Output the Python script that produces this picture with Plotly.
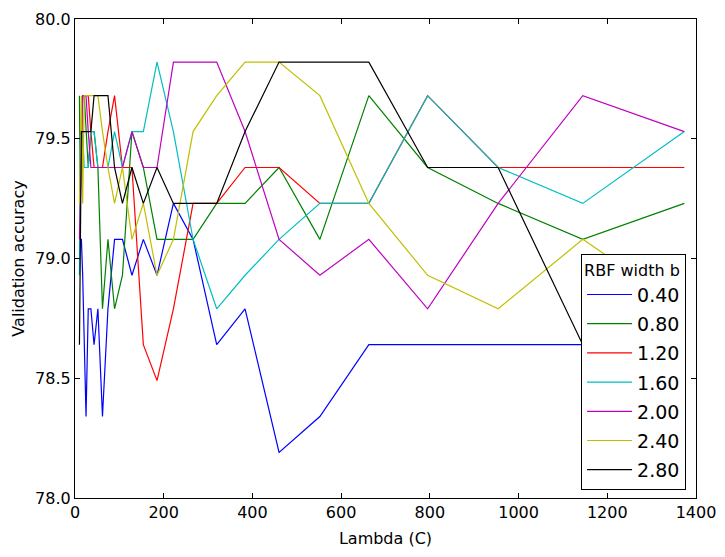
import plotly.graph_objects as go

# Lambda (C) values
lambdas = [10.0, 12.0, 14.4, 17.28, 20.74, 24.88, 29.86, 35.83, 43.0, 51.6, 61.92, 74.3,
           89.16, 106.99, 128.39, 154.07, 184.88, 221.86, 266.23, 319.48, 383.38, 460.05,
           552.06, 662.47, 794.97, 953.96, 1144.75, 1373.7]

width_labels = ["0.40", "0.80", "1.20", "1.60", "2.00", "2.40", "2.80"]

acc_040 = [79.08, 79.08, 79.08, 78.93, 78.64, 78.34, 78.79, 78.79, 78.64, 78.79, 78.34, 78.79,
           79.08, 79.08, 78.93, 79.08, 78.93, 79.23, 79.08, 78.64, 78.79, 78.19, 78.34, 78.64,
           78.64, 78.64, 78.64, 78.64]
acc_080 = [79.68, 79.23, 79.53, 79.68, 79.68, 79.53, 79.38, 79.53, 79.53, 79.38, 78.79, 79.08,
           78.79, 78.93, 79.53, 79.38, 79.08, 79.08, 79.08, 79.23, 79.23, 79.38, 79.08, 79.68,
           79.38, 79.23, 79.08, 79.23]
acc_120 = [79.53, 79.53, 79.38, 79.68, 79.68, 79.68, 79.68, 79.53, 79.38, 79.38, 79.38, 79.53,
           79.68, 79.38, 79.38, 78.64, 78.49, 78.79, 79.23, 79.23, 79.38, 79.38, 79.23, 79.23,
           79.68, 79.38, 79.38, 79.38]
acc_160 = [78.93, 79.53, 79.38, 79.53, 79.38, 79.38, 79.38, 79.53, 79.53, 79.38, 79.38, 79.38,
           79.53, 79.38, 79.53, 79.53, 79.82, 79.53, 79.08, 78.79, 78.93, 79.08, 79.23, 79.23,
           79.68, 79.38, 79.23, 79.53]
acc_200 = [79.08, 79.23, 79.53, 79.68, 79.68, 79.68, 79.53, 79.38, 79.38, 79.38, 79.38, 79.38,
           79.38, 79.38, 79.53, 79.38, 79.38, 79.82, 79.82, 79.82, 79.53, 79.08, 78.93, 79.08,
           78.79, 79.23, 79.68, 79.53]
acc_240 = [79.23, 79.53, 79.68, 79.23, 79.68, 79.68, 79.68, 79.68, 79.68, 79.68, 79.53, 79.38,
           79.23, 79.38, 79.08, 79.23, 78.93, 79.08, 79.53, 79.68, 79.82, 79.82, 79.68, 79.23,
           78.93, 78.79, 79.08, 78.79]
acc_280 = [78.64, 79.23, 79.53, 79.53, 79.53, 79.53, 79.53, 79.53, 79.68, 79.68, 79.68, 79.68,
           79.38, 79.23, 79.38, 79.23, 79.38, 79.23, 79.23, 79.23, 79.53, 79.82, 79.82, 79.82,
           79.38, 79.38, 78.64, 78.64]

series = [acc_040, acc_080, acc_120, acc_160, acc_200, acc_240, acc_280]
colors = ["#0000ff", "#008000", "#ff0000", "#00bfbf", "#bf00bf", "#bfbf00", "#000000"]

x_ticks = [0, 200, 400, 600, 800, 1000, 1200, 1400]
y_ticks = [78.0, 78.5, 79.0, 79.5, 80.0]

FONT = "DejaVu Sans"

fig = go.Figure()
for lbl, ys, c in zip(width_labels, series, colors):
    fig.add_trace(go.Scatter(x=lambdas, y=ys, mode="lines", name=lbl, legendgroup=lbl,
                             line=dict(color=c, width=1.2)))

axis_common = dict(showline=True, linecolor="black", linewidth=1.2, mirror="ticks",
                   ticks="inside", ticklen=5, tickwidth=1, tickcolor="black",
                   showgrid=False, zeroline=False,
                   tickfont=dict(family=FONT, size=16, color="black"))

fig.update_xaxes(range=[0, 1400], tickvals=x_ticks, ticktext=[str(v) for v in x_ticks],
                 title=dict(text="Lambda (C)", font=dict(family=FONT, size=16, color="black"),
                            standoff=11),
                 **axis_common)
fig.update_yaxes(range=[78, 80], tickvals=y_ticks, ticktext=[f"{v:.1f}" for v in y_ticks],
                 title=dict(text="Validation accuracy", font=dict(family=FONT, size=16, color="black"),
                            standoff=6),
                 **axis_common)

fig.update_layout(
    width=725, height=557,
    margin=dict(l=75, r=29, t=19, b=59, autoexpand=False),
    paper_bgcolor="white", plot_bgcolor="white",
    font=dict(family=FONT, size=16, color="black"),
    showlegend=True,
    legend=dict(
        title=dict(text="RBF width b", font=dict(family=FONT, size=16, color="black"), side="top"),
        font=dict(family=FONT, size=19, color="black"),
        x=0.984, y=0.017, xanchor="right", yanchor="bottom",
        bordercolor="black", borderwidth=1, bgcolor="white",
        traceorder="grouped", tracegroupgap=1.5, itemwidth=45,
    ),
)

fig.write_html("out.html")
